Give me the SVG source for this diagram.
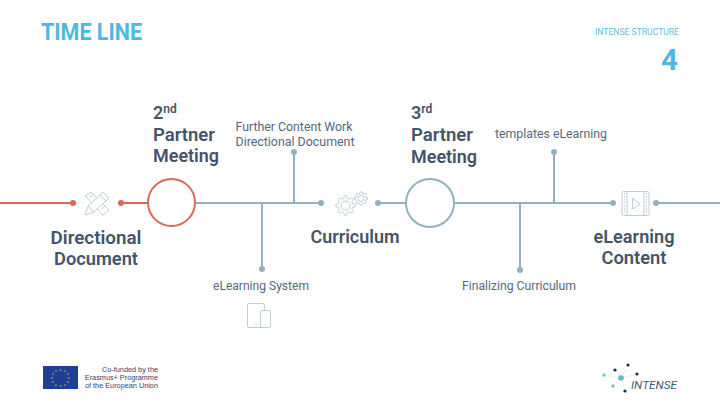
<svg xmlns="http://www.w3.org/2000/svg" width="720" height="405" viewBox="0 0 720 405">
<style>
text{font-family:Roboto,"Noto Sans","Liberation Sans",sans-serif}
.h{font-size:18px;font-weight:600;fill:#44546a}
.s{font-size:12px;fill:#56677b}
.b{fill:none;stroke:#92b2c2;stroke-width:2}
.r{fill:none;stroke:#d9695c;stroke-width:2}
.bd{fill:#92b2c2}
.rd{fill:#d9695c}
.i{fill:none;stroke:#bccfd8;stroke-width:1}
.e{font-family:"Liberation Sans",sans-serif;font-size:7.300px;fill:#33436a;text-anchor:end}
</style>
<defs>
<path id="gear" vector-effect="non-scaling-stroke" d="M9.9-1.39L9.9 1.39L7.37 1.84L6.51 3.91L7.99 6.02L6.02 7.99L3.91 6.51L1.84 7.37L1.39 9.9L-1.39 9.9L-1.84 7.37L-3.91 6.51L-6.02 7.99L-7.99 6.02L-6.51 3.91L-7.37 1.84L-9.9 1.39L-9.9-1.39L-7.37-1.84L-6.51-3.91L-7.99-6.02L-6.02-7.99L-3.91-6.51L-1.84-7.37L-1.39-9.9L1.39-9.9L1.84-7.37L3.91-6.51L6.02-7.99L7.99-6.02L6.51-3.91L7.37-1.84Z"/>
</defs>
<rect width="720" height="405" fill="#ffffff"/>
<g id="header">
<text x="41" y="40" font-size="24" font-weight="700" fill="#4db8e6" textLength="101" lengthAdjust="spacingAndGlyphs">TIME LINE</text>
<text x="595" y="35" font-size="8.500" fill="#62bde6" textLength="84" lengthAdjust="spacingAndGlyphs">INTENSE STRUCTURE</text>
<text x="661" y="70" font-size="29" font-weight="700" fill="#4db8e6" textLength="17" lengthAdjust="spacingAndGlyphs">4</text>
</g>
<g id="connectors">
<path class="r" d="M0 203H73M121 203H148"/>
<path class="b" d="M195 203H321M294 203V152M262 203V269M378 203H406M454 203H613M554 203V152M520 203V270M656 203H720"/>
<circle class="rd" cx="73" cy="203" r="3"/>
<circle class="rd" cx="121" cy="203" r="3"/>
<circle class="bd" cx="321" cy="203" r="3"/>
<circle class="bd" cx="294" cy="152" r="3"/>
<circle class="bd" cx="262" cy="269" r="3"/>
<circle class="bd" cx="378" cy="203" r="3"/>
<circle class="bd" cx="613" cy="203" r="3"/>
<circle class="bd" cx="554" cy="152" r="3"/>
<circle class="bd" cx="520" cy="270" r="3"/>
<circle class="bd" cx="656" cy="203" r="3"/>
</g>
<g id="node-directional-document">
<g class="i">
<path d="M85 196L91 192L109 210L103 215Z M90 197L93 194.500M94 201L97 198.500M98 205L101 202.500M102 209L105 206.500"/>
<path fill="#fff" d="M85 215L88 206L103 192L109 198L94 212Z M88 206L94 212M100 195L106 201"/>
</g>
<text class="h" x="96" y="244" text-anchor="middle" textLength="91" lengthAdjust="spacingAndGlyphs">Directional</text>
<text class="h" x="96" y="265" text-anchor="middle" textLength="84" lengthAdjust="spacingAndGlyphs">Document</text>
</g>
<g id="node-partner-meeting-2">
<circle cx="171.500" cy="202.500" r="23.500" fill="#fff" stroke="#d9695c" stroke-width="2"/>
<text class="h" x="153" y="119">2<tspan font-size="12" dy="-6">nd</tspan></text>
<text class="h" x="153" y="141" textLength="62" lengthAdjust="spacingAndGlyphs">Partner</text>
<text class="h" x="153" y="162" textLength="66" lengthAdjust="spacingAndGlyphs">Meeting</text>
</g>
<g id="node-further-content">
<text class="s" x="235.500" y="131" textLength="117" lengthAdjust="spacingAndGlyphs">Further Content Work</text>
<text class="s" x="235.500" y="146" textLength="119" lengthAdjust="spacingAndGlyphs">Directional Document</text>
</g>
<g id="node-elearning-system">
<text class="s" x="213" y="290" textLength="96" lengthAdjust="spacingAndGlyphs">eLearning System</text>
<g class="i">
<rect x="247.500" y="303.500" width="17" height="24" rx="1.500"/>
<rect x="260.500" y="310.500" width="10" height="17" rx="1.500" fill="#fff"/>
<path d="M255 325H257M265 325H266"/>
</g>
</g>
<g id="node-curriculum">
<g class="i">
<use href="#gear" transform="translate(345.500 205.500) scale(.97)"/>
<circle cx="345.500" cy="205.500" r="4.500"/>
<use href="#gear" transform="translate(361 198.500) scale(.67)"/>
<circle cx="361" cy="198.500" r="3"/>
</g>
<text class="h" x="355" y="243" text-anchor="middle" textLength="89" lengthAdjust="spacingAndGlyphs">Curriculum</text>
</g>
<g id="node-partner-meeting-3">
<circle cx="430" cy="203" r="24" fill="#fff" stroke="#92b2c2" stroke-width="2"/>
<text class="h" x="411" y="119">3<tspan font-size="12" dy="-6">rd</tspan></text>
<text class="h" x="411" y="141" textLength="62" lengthAdjust="spacingAndGlyphs">Partner</text>
<text class="h" x="411" y="163" textLength="66" lengthAdjust="spacingAndGlyphs">Meeting</text>
</g>
<g id="node-templates">
<text class="s" x="495" y="138" textLength="112" lengthAdjust="spacingAndGlyphs">templates eLearning</text>
</g>
<g id="node-finalizing">
<text class="s" x="462" y="290" textLength="114" lengthAdjust="spacingAndGlyphs">Finalizing Curriculum</text>
</g>
<g id="node-elearning-content">
<g class="i">
<rect x="622" y="191.500" width="27" height="24" rx="1.500"/>
<path d="M627 191.500V215.500M644 191.500V215.500"/>
<path d="M632.500 198L640 204L632.500 209Z"/>
<path d="M624.500 193V214M646.500 193V214" stroke-dasharray="1.500 1.500"/>
</g>
<text class="h" x="634" y="243" text-anchor="middle" textLength="81" lengthAdjust="spacingAndGlyphs">eLearning</text>
<text class="h" x="634" y="264" text-anchor="middle" textLength="65" lengthAdjust="spacingAndGlyphs">Content</text>
</g>
<g id="eu-logo">
<rect x="43" y="366" width="35" height="23" fill="#1f3f94"/>
<g fill="#e8d84a">
<circle cx="60.500" cy="370" r=".7"/><circle cx="65" cy="371" r=".7"/><circle cx="68" cy="374" r=".7"/><circle cx="69" cy="378" r=".7"/><circle cx="68" cy="382" r=".7"/><circle cx="65" cy="385" r=".7"/><circle cx="60.500" cy="386" r=".7"/><circle cx="56" cy="385" r=".7"/><circle cx="53" cy="382" r=".7"/><circle cx="52" cy="378" r=".7"/><circle cx="53" cy="374" r=".7"/><circle cx="56" cy="371" r=".7"/>
</g>
<text class="e" x="158" y="371.500">Co-funded by the</text>
<text class="e" x="158" y="379.500">Erasmus+ Programme</text>
<text class="e" x="158" y="388">of the European Union</text>
</g>
<g id="intense-logo">
<path d="M621 378L604 375M621 378L616 370M621 378L628 365M621 378L637 374M621 378L613 386M621 378L625 391" stroke="#d9e6ea" stroke-width=".6" fill="none"/>
<circle cx="621" cy="378" r="2.800" fill="#5cc0c8"/>
<circle cx="604" cy="375" r="1.700" fill="#6cc8cc"/>
<circle cx="613" cy="386" r="1.700" fill="#6cc8cc"/>
<circle cx="615" cy="370" r="1.600" fill="#1c3242"/>
<circle cx="628" cy="365" r="1.600" fill="#1c3242"/>
<circle cx="637" cy="374" r="1.600" fill="#1c3242"/>
<circle cx="625" cy="391" r="1.600" fill="#1c3242"/>
<text x="631" y="389" font-size="10" font-style="italic" fill="#3a6272" textLength="46" lengthAdjust="spacingAndGlyphs">INTENSE</text>
</g>
</svg>
